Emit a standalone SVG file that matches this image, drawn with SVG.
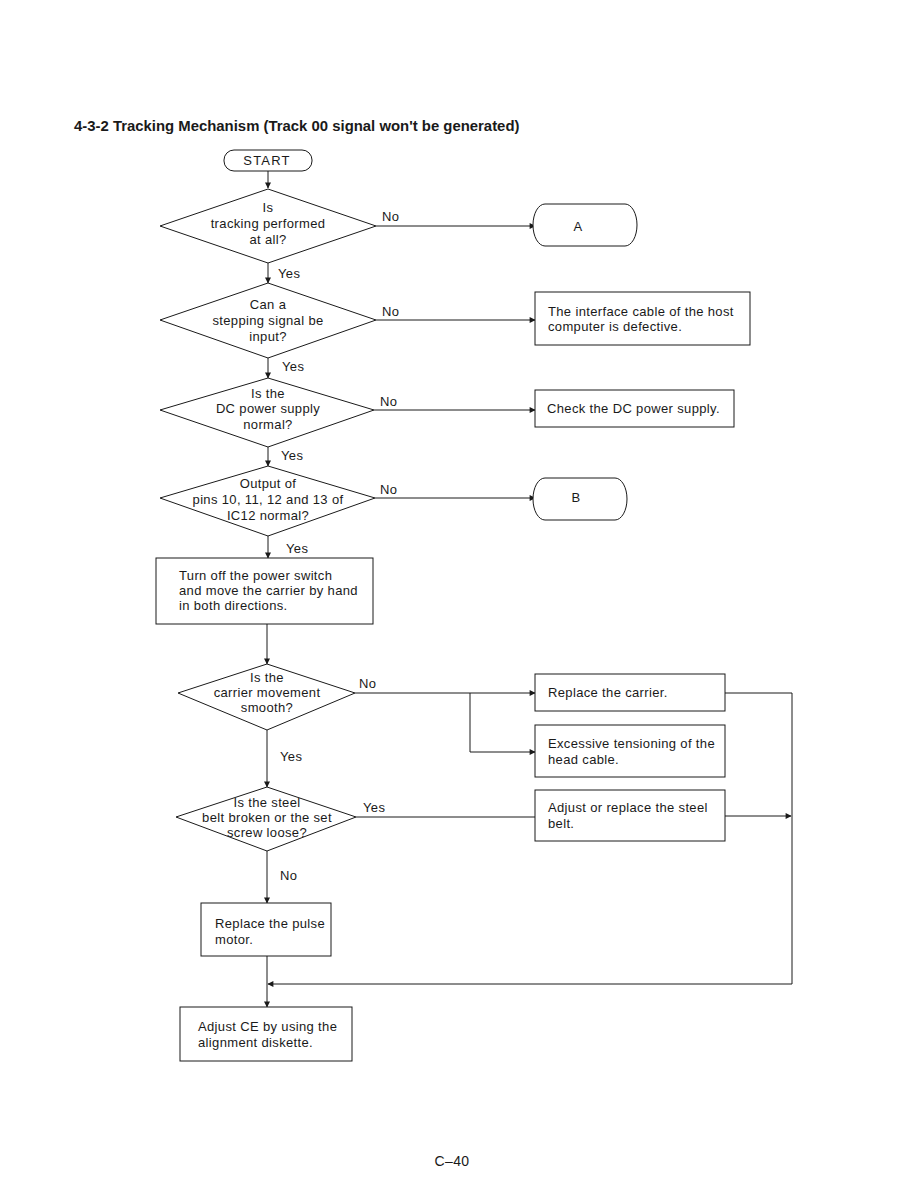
<svg xmlns="http://www.w3.org/2000/svg" width="899" height="1197" viewBox="0 0 899 1197">
<style>
.s{fill:#fff;stroke:#1a1a1a;stroke-width:1}
.t{font-family:"Liberation Sans",Arial,sans-serif;font-size:13px;letter-spacing:0.35px;fill:#1a1a1a}
.c{text-anchor:middle}
.l{fill:none;stroke:#1a1a1a;stroke-width:1}
</style>
<defs>
<marker id="ah" viewBox="0 0 10 10" refX="9" refY="5" markerWidth="7" markerHeight="6" orient="auto" markerUnits="userSpaceOnUse">
<path d="M0,0 L10,5 L0,10 Z" fill="#1a1a1a"/>
</marker>
</defs>
<rect width="899" height="1197" fill="#fff"/>
<text x="74" y="131" style="font-family:'Liberation Sans',Arial,sans-serif;font-size:14.9px;font-weight:bold" fill="#1a1a1a">4-3-2 Tracking Mechanism (Track 00 signal won't be generated)</text>

<g id="connectors">
<path class="l" d="M268,171 V188" marker-end="url(#ah)"/>
<path class="l" d="M376,226 H535" marker-end="url(#ah)"/>
<path class="l" d="M268,263 V283" marker-end="url(#ah)"/>
<path class="l" d="M376,320 H535" marker-end="url(#ah)"/>
<path class="l" d="M268,358 V378" marker-end="url(#ah)"/>
<path class="l" d="M374,410 H535" marker-end="url(#ah)"/>
<path class="l" d="M268,447 V466" marker-end="url(#ah)"/>
<path class="l" d="M375,498 H535" marker-end="url(#ah)"/>
<path class="l" d="M268,536 V558" marker-end="url(#ah)"/>
<path class="l" d="M267,624 V664" marker-end="url(#ah)"/>
<path class="l" d="M355,693 H535" marker-end="url(#ah)"/>
<path class="l" d="M470,693 V752 H535" marker-end="url(#ah)"/>
<path class="l" d="M267,730 V787" marker-end="url(#ah)"/>
<path class="l" d="M356,817 H535"/>
<path class="l" d="M267,851 V903" marker-end="url(#ah)"/>
<path class="l" d="M725,693 H792 V984"/>
<path class="l" d="M725,816 H791" marker-end="url(#ah)"/>
<path class="l" d="M792,984 H268" marker-end="url(#ah)"/>
<path class="l" d="M267,956 V1007" marker-end="url(#ah)"/>
<text class="t" x="382" y="221">No</text>
<text class="t" x="278" y="278">Yes</text>
<text class="t" x="382" y="316">No</text>
<text class="t" x="282" y="371">Yes</text>
<text class="t" x="380" y="406">No</text>
<text class="t" x="281" y="460">Yes</text>
<text class="t" x="380" y="494">No</text>
<text class="t" x="286" y="553">Yes</text>
<text class="t" x="359" y="688">No</text>
<text class="t" x="280" y="761">Yes</text>
<text class="t" x="363" y="812">Yes</text>
<text class="t" x="280" y="880">No</text>
</g>

<g id="start">
<rect class="s" x="224" y="150" width="88" height="21" rx="10" ry="10"/>
<text class="t c" x="267" y="165" style="letter-spacing:1.2px">START</text>
</g>

<g id="d1">
<polygon class="s" points="268,189 376,226 268,263 160,226"/>
<text class="t c" x="268" y="212">Is</text>
<text class="t c" x="268" y="228">tracking performed</text>
<text class="t c" x="268" y="244">at all?</text>
</g>

<g id="termA">
<path class="s" d="M545,204 H625 A12,21 0 0 1 625,246 H545 A12,21 0 0 1 545,204 Z"/>
<text class="t c" x="578" y="231">A</text>
</g>

<g id="d2">
<polygon class="s" points="268,283 376,320 268,358 160,320"/>
<text class="t c" x="268" y="309">Can a</text>
<text class="t c" x="268" y="325">stepping signal be</text>
<text class="t c" x="268" y="341">input?</text>
</g>

<g id="b1">
<rect class="s" x="535" y="292" width="215" height="53"/>
<text class="t" x="548" y="316">The interface cable of the host</text>
<text class="t" x="548" y="331">computer is defective.</text>
</g>

<g id="d3">
<polygon class="s" points="268,378 374,410 268,447 160,410"/>
<text class="t c" x="268" y="398">Is the</text>
<text class="t c" x="268" y="413">DC power supply</text>
<text class="t c" x="268" y="429">normal?</text>
</g>

<g id="b2">
<rect class="s" x="535" y="390" width="199" height="37"/>
<text class="t" x="547" y="413">Check the DC power supply.</text>
</g>

<g id="d4">
<polygon class="s" points="268,466 375,498 268,536 160,498"/>
<text class="t c" x="268" y="488">Output of</text>
<text class="t c" x="268" y="504">pins 10, 11, 12 and 13 of</text>
<text class="t c" x="268" y="520">IC12 normal?</text>
</g>

<g id="termB">
<path class="s" d="M545,478 H615 A12,21 0 0 1 615,520 H545 A12,21 0 0 1 545,478 Z"/>
<text class="t c" x="576" y="502">B</text>
</g>

<g id="b3">
<rect class="s" x="156" y="558" width="217" height="66"/>
<text class="t" x="179" y="580">Turn off the power switch</text>
<text class="t" x="179" y="595">and move the carrier by hand</text>
<text class="t" x="179" y="610">in both directions.</text>
</g>

<g id="d5">
<polygon class="s" points="267,664 355,693 267,730 178,693"/>
<text class="t c" x="267" y="682">Is the</text>
<text class="t c" x="267" y="697">carrier movement</text>
<text class="t c" x="267" y="712">smooth?</text>
</g>

<g id="b4">
<rect class="s" x="535" y="674" width="190" height="37"/>
<text class="t" x="548" y="697">Replace the carrier.</text>
</g>

<g id="b5">
<rect class="s" x="535" y="725" width="190" height="52"/>
<text class="t" x="548" y="748">Excessive tensioning of the</text>
<text class="t" x="548" y="764">head cable.</text>
</g>

<g id="d6">
<polygon class="s" points="267,787 356,817 267,851 176,817"/>
<text class="t c" x="267" y="807">Is the steel</text>
<text class="t c" x="267" y="822">belt broken or the set</text>
<text class="t c" x="267" y="837">screw loose?</text>
</g>

<g id="b6">
<rect class="s" x="535" y="790" width="190" height="51"/>
<text class="t" x="548" y="812">Adjust or replace the steel</text>
<text class="t" x="548" y="828">belt.</text>
</g>

<g id="b7">
<rect class="s" x="201" y="903" width="130" height="53"/>
<text class="t" x="215" y="928">Replace the pulse</text>
<text class="t" x="215" y="944">motor.</text>
</g>

<g id="b8">
<rect class="s" x="180" y="1007" width="172" height="54"/>
<text class="t" x="198" y="1031">Adjust CE by using the</text>
<text class="t" x="198" y="1047">alignment diskette.</text>
</g>

<text class="t c" x="452" y="1166" style="font-size:14px">C–40</text>
</svg>
